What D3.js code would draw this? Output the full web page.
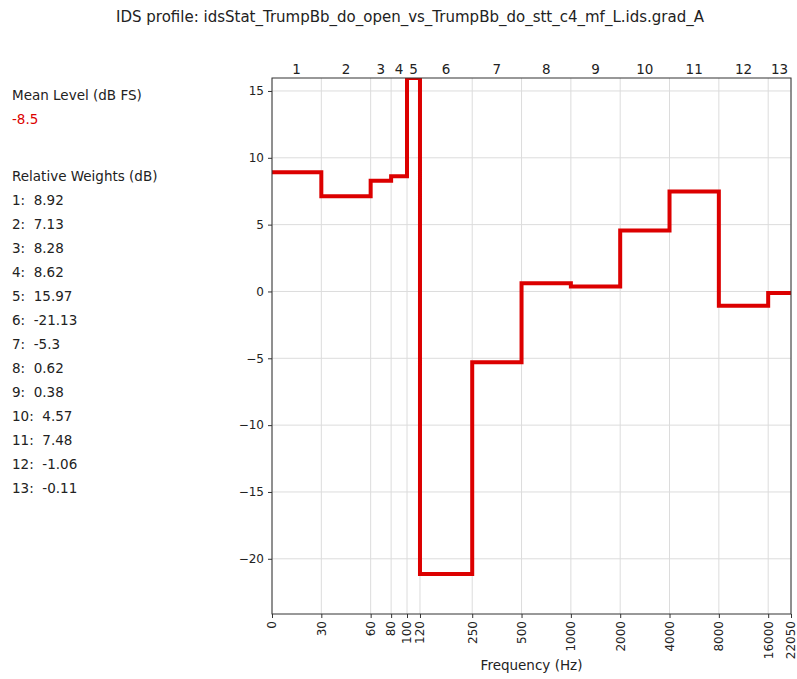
<!DOCTYPE html>
<html>
<head>
<meta charset="utf-8">
<script src="https://cdn.jsdelivr.net/npm/d3@7"></script>
<style>
  body { margin: 0; background: #fff; }
  svg { font-family: "DejaVu Sans", sans-serif; }
</style>
</head>
<body>
<div id="chart"></div>
<script>
// band edges (Hz), band numbers and their relative weights (dB)
const bandEdges = [0, 30, 60, 80, 100, 120, 250, 500, 1000, 2000, 4000, 8000, 16000, 22050]
const bandNames = ["1", "2", "3", "4", "5", "6", "7", "8", "9", "10", "11", "12", "13"]
const weights = [8.92, 7.13, 8.28, 8.62, 15.97, -21.13, -5.3, 0.62, 0.38, 4.57, 7.48, -1.06, -0.11]
const yTicks = [-20, -15, -10, -5, 0, 5, 10, 15]
const meanLevel = "-8.5"
const titleText = "IDS profile: idsStat_TrumpBb_do_open_vs_TrumpBb_do_stt_c4_mf_L.ids.grad_A"

const width = 797
const height = 679
const margin = {top: 78, right: 6, bottom: 65, left: 272}
const lineColor = "#dc0000"

const svg = d3.select("#chart").append("svg")
  .attr("width", width)
  .attr("height", height)

// 0 Hz is drawn one octave below 30 Hz
const zeroAt = 15
const fx = f => (f === 0 ? zeroAt : f)

const x = d3.scaleLog()
  .domain([zeroAt, 22050])
  .range([margin.left, width - margin.right])

const y = d3.scaleLinear()
  .domain([d3.min(weights) - 3, d3.max(weights)])
  .range([height - margin.bottom, margin.top])

const plotW = width - margin.right - margin.left
const plotH = height - margin.bottom - margin.top

// grid
svg.append("g")
  .selectAll("line")
  .data(bandEdges)
  .enter().append("line")
  .attr("x1", d => x(fx(d))).attr("x2", d => x(fx(d)))
  .attr("y1", margin.top).attr("y2", height - margin.bottom)
  .attr("stroke", "#dcdcdc").attr("stroke-width", 1)

svg.append("g")
  .selectAll("line")
  .data(yTicks)
  .enter().append("line")
  .attr("x1", margin.left).attr("x2", width - margin.right)
  .attr("y1", d => y(d)).attr("y2", d => y(d))
  .attr("stroke", "#dcdcdc").attr("stroke-width", 1)

// step line
svg.append("clipPath").attr("id", "clip")
  .append("rect")
  .attr("x", margin.left).attr("y", margin.top)
  .attr("width", plotW).attr("height", plotH)

const pts = weights.map((w, i) => [bandEdges[i], w])
pts.push([bandEdges[bandEdges.length - 1], weights[weights.length - 1]])

const line = d3.line()
  .x(d => x(fx(d[0])))
  .y(d => y(d[1]))
  .curve(d3.curveStepAfter)

svg.append("path")
  .datum(pts)
  .attr("clip-path", "url(#clip)")
  .attr("fill", "none")
  .attr("stroke", lineColor)
  .attr("stroke-width", 4)
  .attr("d", line)

// axes
const xAxis = svg.append("g")
  .attr("transform", "translate(0," + (height - margin.bottom) + ")")
  .call(d3.axisBottom(x).tickValues(bandEdges.map(fx))
    .tickFormat((d, i) => bandEdges[i]).tickSize(4).tickPadding(3))
xAxis.selectAll("text")
  .attr("transform", "rotate(-90)")
  .attr("text-anchor", "end")
  .attr("x", -7).attr("y", 0).attr("dy", "0.32em")

const yAxis = svg.append("g")
  .attr("transform", "translate(" + margin.left + ",0)")
  .call(d3.axisLeft(y).tickValues(yTicks).tickFormat(d => d < 0 ? "\u2212" + (-d) : d).tickSize(4).tickPadding(4))

svg.selectAll(".tick text").attr("font-size", 12).attr("fill", "#222").attr("font-family", "DejaVu Sans")
svg.selectAll(".tick line").attr("stroke", "#333")
svg.selectAll(".domain").remove()

// frame
svg.append("rect")
  .attr("x", margin.left).attr("y", margin.top)
  .attr("width", plotW).attr("height", plotH)
  .attr("fill", "none").attr("stroke", "#333").attr("stroke-width", 1)

// band numbers on top
svg.append("g")
  .selectAll("text")
  .data(bandNames)
  .enter().append("text")
  .attr("x", (d, i) => (x(fx(bandEdges[i])) + x(fx(bandEdges[i + 1]))) / 2)
  .attr("y", margin.top - 4)
  .attr("text-anchor", "middle")
  .attr("font-size", 13.5)
  .attr("fill", "#222")
  .text(d => d)

svg.append("text")
  .attr("x", margin.left + plotW / 2)
  .attr("y", 670)
  .attr("text-anchor", "middle")
  .attr("font-size", 13.5)
  .attr("fill", "#222")
  .text("Frequency (Hz)")

svg.append("text")
  .attr("x", 410)
  .attr("y", 22)
  .attr("text-anchor", "middle")
  .attr("font-size", 15)
  .attr("fill", "#222")
  .text(titleText)

// side panel
svg.append("text").attr("x", 12).attr("y", 100)
  .attr("font-size", 13.5).attr("fill", "#222").text("Mean Level (dB FS)")
svg.append("text").attr("x", 12).attr("y", 124)
  .attr("font-size", 13.5).attr("fill", lineColor).text(meanLevel)
svg.append("text").attr("x", 12).attr("y", 181)
  .attr("font-size", 13.5).attr("fill", "#222").text("Relative Weights (dB)")

svg.append("g")
  .selectAll("text")
  .data(weights)
  .enter().append("text")
  .attr("x", 12)
  .attr("y", (d, i) => 205 + i * 24)
  .attr("font-size", 13.5)
  .attr("fill", "#222")
  .attr("xml:space", "preserve")
  .text((d, i) => bandNames[i] + ":  " + d)
</script>
</body>
</html>
